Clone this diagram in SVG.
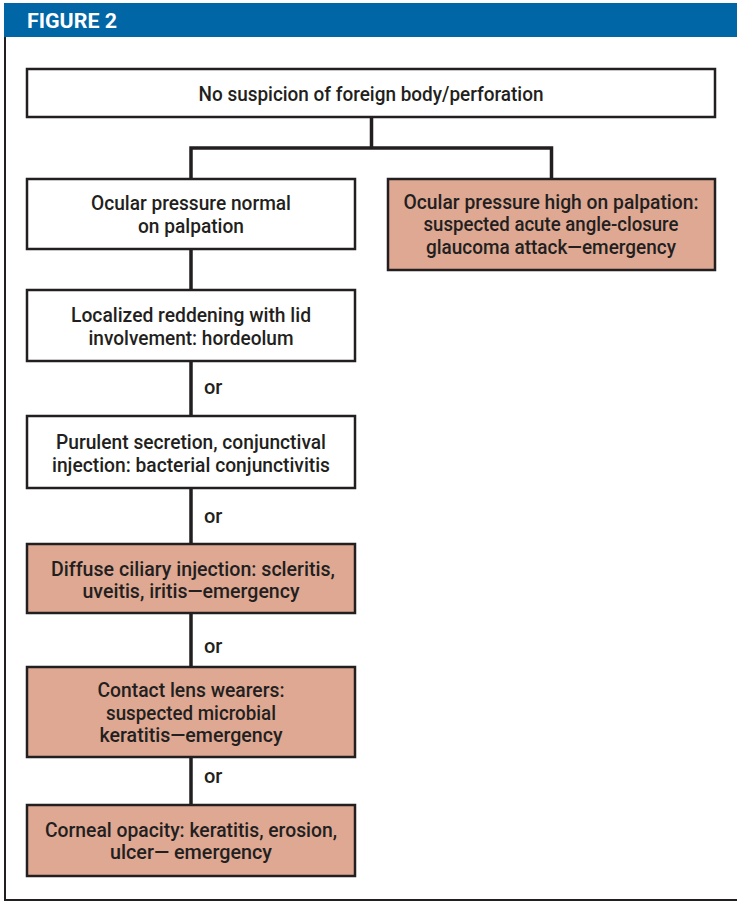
<svg xmlns="http://www.w3.org/2000/svg" width="737" height="902" viewBox="0 0 737 902">
<style>
.box{fill:#ffffff;stroke:#231f20;stroke-width:2.5}
.em{fill:#dea893;stroke:#231f20;stroke-width:2.5}
.t{font-family:Roboto,"Liberation Sans",sans-serif;font-weight:500;font-size:20px;fill:#231f20;text-anchor:middle}
.or{font-family:Roboto,"Liberation Sans",sans-serif;font-weight:500;font-size:20px;fill:#231f20}
.c{fill:none;stroke:#231f20;stroke-width:3.5}
</style>
<rect x="0" y="0" width="737" height="902" fill="#ffffff"/>
<g id="frame">
<rect x="4" y="3" width="733" height="34" fill="#0066a6"/>
<text x="27" y="27.5" font-family="Roboto,'Liberation Sans',sans-serif" font-weight="bold" font-size="20" fill="#ffffff" textLength="90" lengthAdjust="spacingAndGlyphs">FIGURE 2</text>
<path d="M5,37 V900 H737" fill="none" stroke="#231f20" stroke-width="2"/>
</g>
<g id="connectors">
<path class="c" d="M371.5,117 V148 M191,148 H551.5 M191,146.25 V179 M551.5,146.25 V179"/>
<path class="c" d="M191,249 V290 M191,361 V416 M191,488 V544 M191,613 V667 M191,757 V805"/>
<text class="or" x="204" y="394">or</text>
<text class="or" x="204" y="523">or</text>
<text class="or" x="204" y="653">or</text>
<text class="or" x="204" y="783">or</text>
</g>
<g id="n0">
<rect class="box" x="27" y="69" width="688" height="48"/>
<text class="t" x="371" y="101" textLength="345" lengthAdjust="spacingAndGlyphs">No suspicion of foreign body/perforation</text>
</g>
<g id="n1">
<rect class="box" x="27" y="179" width="328" height="70"/>
<text class="t" x="191" y="209.5" textLength="200" lengthAdjust="spacingAndGlyphs">Ocular pressure normal</text>
<text class="t" x="191" y="232.5" textLength="106" lengthAdjust="spacingAndGlyphs">on palpation</text>
</g>
<g id="n2">
<rect class="em" x="388" y="179" width="327" height="91"/>
<text class="t" x="551" y="208.5" textLength="295" lengthAdjust="spacingAndGlyphs">Ocular pressure high on palpation:</text>
<text class="t" x="551" y="231" textLength="255" lengthAdjust="spacingAndGlyphs">suspected acute angle-closure</text>
<text class="t" x="551" y="254" textLength="250" lengthAdjust="spacingAndGlyphs">glaucoma attack—emergency</text>
</g>
<g id="n3">
<rect class="box" x="27" y="290" width="328" height="71"/>
<text class="t" x="191" y="322" textLength="240" lengthAdjust="spacingAndGlyphs">Localized reddening with lid</text>
<text class="t" x="191" y="345" textLength="205" lengthAdjust="spacingAndGlyphs">involvement: hordeolum</text>
</g>
<g id="n4">
<rect class="box" x="27" y="416" width="328" height="72"/>
<text class="t" x="191" y="449" textLength="270" lengthAdjust="spacingAndGlyphs">Purulent secretion, conjunctival</text>
<text class="t" x="191" y="471.5" textLength="278" lengthAdjust="spacingAndGlyphs">injection: bacterial conjunctivitis</text>
</g>
<g id="n5">
<rect class="em" x="27" y="544" width="328" height="69"/>
<text class="t" x="193" y="576" textLength="284" lengthAdjust="spacingAndGlyphs">Diffuse ciliary injection: scleritis,</text>
<text class="t" x="191" y="598" textLength="217" lengthAdjust="spacingAndGlyphs">uveitis, iritis—emergency</text>
</g>
<g id="n6">
<rect class="em" x="27" y="667" width="328" height="90"/>
<text class="t" x="191" y="697" textLength="187" lengthAdjust="spacingAndGlyphs">Contact lens wearers:</text>
<text class="t" x="191" y="719.5" textLength="170" lengthAdjust="spacingAndGlyphs">suspected microbial</text>
<text class="t" x="191" y="741.5" textLength="183" lengthAdjust="spacingAndGlyphs">keratitis—emergency</text>
</g>
<g id="n7">
<rect class="em" x="27" y="805" width="328" height="71"/>
<text class="t" x="191" y="836.5" textLength="292" lengthAdjust="spacingAndGlyphs">Corneal opacity: keratitis, erosion,</text>
<text class="t" x="191" y="859" textLength="162" lengthAdjust="spacingAndGlyphs">ulcer— emergency</text>
</g>
</svg>
